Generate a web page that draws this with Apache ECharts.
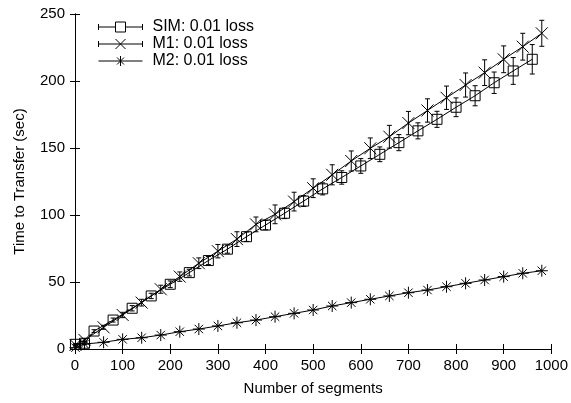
<!DOCTYPE html>
<html>
<head>
<meta charset="utf-8">
<script src="https://cdn.jsdelivr.net/npm/echarts@6/dist/echarts.min.js"></script>
<style>
html,body{margin:0;padding:0;background:#fff;}
#c{width:571px;height:403px;}
</style>
</head>
<body>
<div id="c"></div>
<script>
// ---- data ----
const seriesNames = ['SIM: 0.01 loss', 'M1: 0.01 loss', 'M2: 0.01 loss'];

const simX   = [1, 20, 40, 80, 120, 160, 200, 240, 280, 320, 360, 400, 440, 480, 520, 560, 600, 640, 680, 720, 760, 800, 840, 880, 920, 960];
const simY   = [3.5, 4.3, 13.4, 21.6, 30.4, 39.6, 48.3, 57, 66, 74.5, 83.8, 92.5, 101.3, 110.4, 119.5, 128, 136.6, 145.3, 154, 162.8, 171.4, 180.4, 189, 198.7, 207.5, 216.2];
const simErr = [0.5, 0.8, 1, 1.5, 2, 2, 2.5, 2.5, 3, 3, 3.5, 3.5, 4, 4, 4.5, 5, 5.5, 5.5, 6, 6, 6, 7, 7.5, 8, 10, 11];

const m1X   = [1, 20, 60, 100, 140, 180, 220, 260, 300, 340, 380, 420, 460, 500, 540, 580, 620, 660, 700, 740, 780, 820, 860, 900, 940, 980];
const m1Y   = [3, 6.7, 16.2, 25.4, 34.6, 44.6, 54, 64, 73, 82, 93, 100.5, 110, 120, 130, 140.3, 149.8, 158.4, 168.6, 178, 187.5, 197, 206.2, 216.2, 225.6, 235.6];
const m1Err = [0.5, 1, 1.5, 2, 2.5, 3, 3.5, 4, 5, 5.5, 5.5, 7, 7, 7, 7.5, 7.5, 7.7, 8.5, 8.7, 8.7, 8.7, 9, 9.6, 10, 10, 9.7];

const m2X = [1, 20, 60, 100, 140, 180, 220, 260, 300, 340, 380, 420, 460, 500, 540, 580, 620, 660, 700, 740, 780, 820, 860, 900, 940, 980];
const m2Y = [1, 3.7, 5.0, 7.2, 8.4, 10.4, 12.9, 14.9, 17.2, 19.6, 21.6, 24.1, 26.6, 29.1, 32.1, 34.6, 37.1, 39.6, 42.0, 44.0, 46.5, 49.0, 51.5, 54.0, 56.5, 58.4];

const xTicks = [0, 100, 200, 300, 400, 500, 600, 700, 800, 900, 1000];
const yTicks = [0, 50, 100, 150, 200, 250];

// ---- build options ----
const FONT = 'Liberation Sans, Arial, Helvetica, sans-serif';
const pair = (xs, ys) => xs.map((x, i) => [x, ys[i]]);
const errData = (xs, ys, es) => xs.map((x, i) => [x, ys[i] - es[i], ys[i] + es[i]]);

const SYM_X = 'path://M0,0L10,10M10,0L0,10';
const SYM_STAR = 'path://M0,5L10,5M5,0L5,10M1.5,1.5L8.5,8.5M8.5,1.5L1.5,8.5';

const ICON_SIM = 'path://M0,3L0,9M44,3L44,9M0,6L17,6M27,6L44,6M17,1L27,1L27,11L17,11Z';
const ICON_M1 = 'path://M0,3L0,9M44,3L44,9M0,6L44,6M17,1L27,11M27,1L17,11';
const ICON_M2 = 'path://M0,6L44,6M22,1L22,11M18.5,2.5L25.5,9.5M25.5,2.5L18.5,9.5M22,6L22,6';

function errRender(params, api) {
  const x = api.value(0);
  const lo = api.coord([x, api.value(1)]);
  const hi = api.coord([x, api.value(2)]);
  const cw = 2.5;
  const st = { stroke: '#000', lineWidth: 1 };
  return {
    type: 'group',
    children: [
      { type: 'line', shape: { x1: lo[0], y1: lo[1], x2: hi[0], y2: hi[1] }, style: st },
      { type: 'line', shape: { x1: lo[0] - cw, y1: lo[1], x2: lo[0] + cw, y2: lo[1] }, style: st },
      { type: 'line', shape: { x1: hi[0] - cw, y1: hi[1], x2: hi[0] + cw, y2: hi[1] }, style: st }
    ]
  };
}

const axisCommon = {
  axisLine: { show: true, lineStyle: { color: '#000', width: 1 } },
  axisTick: { show: true, inside: true, length: 5, lineStyle: { color: '#000', width: 1 } },
  splitLine: { show: false },
  axisLabel: { color: '#000', fontFamily: FONT, fontSize: 15 }
};

const option = {
  animation: false,
  backgroundColor: '#fff',
  textStyle: { fontFamily: FONT },
  grid: { left: 75, right: 19, top: 14, bottom: 54, containLabel: false },
  legend: {
    orient: 'vertical',
    left: 93,
    top: 14,
    itemWidth: 44,
    itemHeight: 10,
    itemGap: 1,
    selectedMode: false,
    textStyle: { color: '#000', fontFamily: FONT, fontSize: 16, lineHeight: 14, padding: [0, 0, 0, 5] },
    data: [
      { name: seriesNames[0], icon: ICON_SIM },
      { name: seriesNames[1], icon: ICON_M1 },
      { name: seriesNames[2], icon: ICON_M2 }
    ],
    itemStyle: { color: 'transparent', borderColor: '#000', borderWidth: 1 }
  },
  xAxis: [
    Object.assign({}, axisCommon, {
      type: 'value', min: 0, max: 1000, interval: 100, position: 'bottom',
      name: 'Number of segments', nameLocation: 'middle', nameGap: 32,
      nameTextStyle: { color: '#000', fontFamily: FONT, fontSize: 15 },
      axisLabel: Object.assign({}, axisCommon.axisLabel, { margin: 9,
        formatter: v => (xTicks.indexOf(v) >= 0 ? String(v) : '') })
    }),
    Object.assign({}, axisCommon, {
      type: 'value', min: 0, max: 1000, interval: 100, position: 'top',
      axisLabel: { show: false }
    })
  ],
  yAxis: [
    Object.assign({}, axisCommon, {
      type: 'value', min: 0, max: 250, interval: 50, position: 'left',
      name: 'Time to Transfer (sec)', nameLocation: 'middle', nameGap: 48,
      nameTextStyle: { color: '#000', fontFamily: FONT, fontSize: 15 },
      axisLabel: Object.assign({}, axisCommon.axisLabel, { margin: 10,
        formatter: v => (yTicks.indexOf(v) >= 0 ? String(v) : '') })
    }),
    Object.assign({}, axisCommon, {
      type: 'value', min: 0, max: 250, interval: 50, position: 'right',
      axisLabel: { show: false }
    })
  ],
  series: [
    {
      name: seriesNames[0], type: 'line', data: pair(simX, simY),
      symbol: 'rect', symbolSize: 10, showAllSymbol: true,
      lineStyle: { color: '#000', width: 1 },
      itemStyle: { color: 'transparent', borderColor: '#000', borderWidth: 1 },
      emphasis: { disabled: true }, z: 3
    },
    {
      name: seriesNames[1], type: 'line', data: pair(m1X, m1Y),
      symbol: SYM_X, symbolSize: 12, showAllSymbol: true,
      lineStyle: { color: '#000', width: 1 },
      itemStyle: { color: 'transparent', borderColor: '#000', borderWidth: 1 },
      emphasis: { disabled: true }, z: 3
    },
    {
      name: seriesNames[2], type: 'line', data: pair(m2X, m2Y),
      symbol: SYM_STAR, symbolSize: 12, showAllSymbol: true,
      lineStyle: { color: '#000', width: 1 },
      itemStyle: { color: 'transparent', borderColor: '#000', borderWidth: 1 },
      emphasis: { disabled: true }, z: 3
    },
    {
      name: 'simErr', type: 'custom', renderItem: errRender,
      data: errData(simX, simY, simErr), encode: { x: 0, y: [1, 2] }, z: 2, silent: true
    },
    {
      name: 'm1Err', type: 'custom', renderItem: errRender,
      data: errData(m1X, m1Y, m1Err), encode: { x: 0, y: [1, 2] }, z: 2, silent: true
    }
  ]
};

const chart = echarts.init(document.getElementById('c'), null, { renderer: 'canvas' });
chart.setOption(option);
</script>
</body>
</html>
